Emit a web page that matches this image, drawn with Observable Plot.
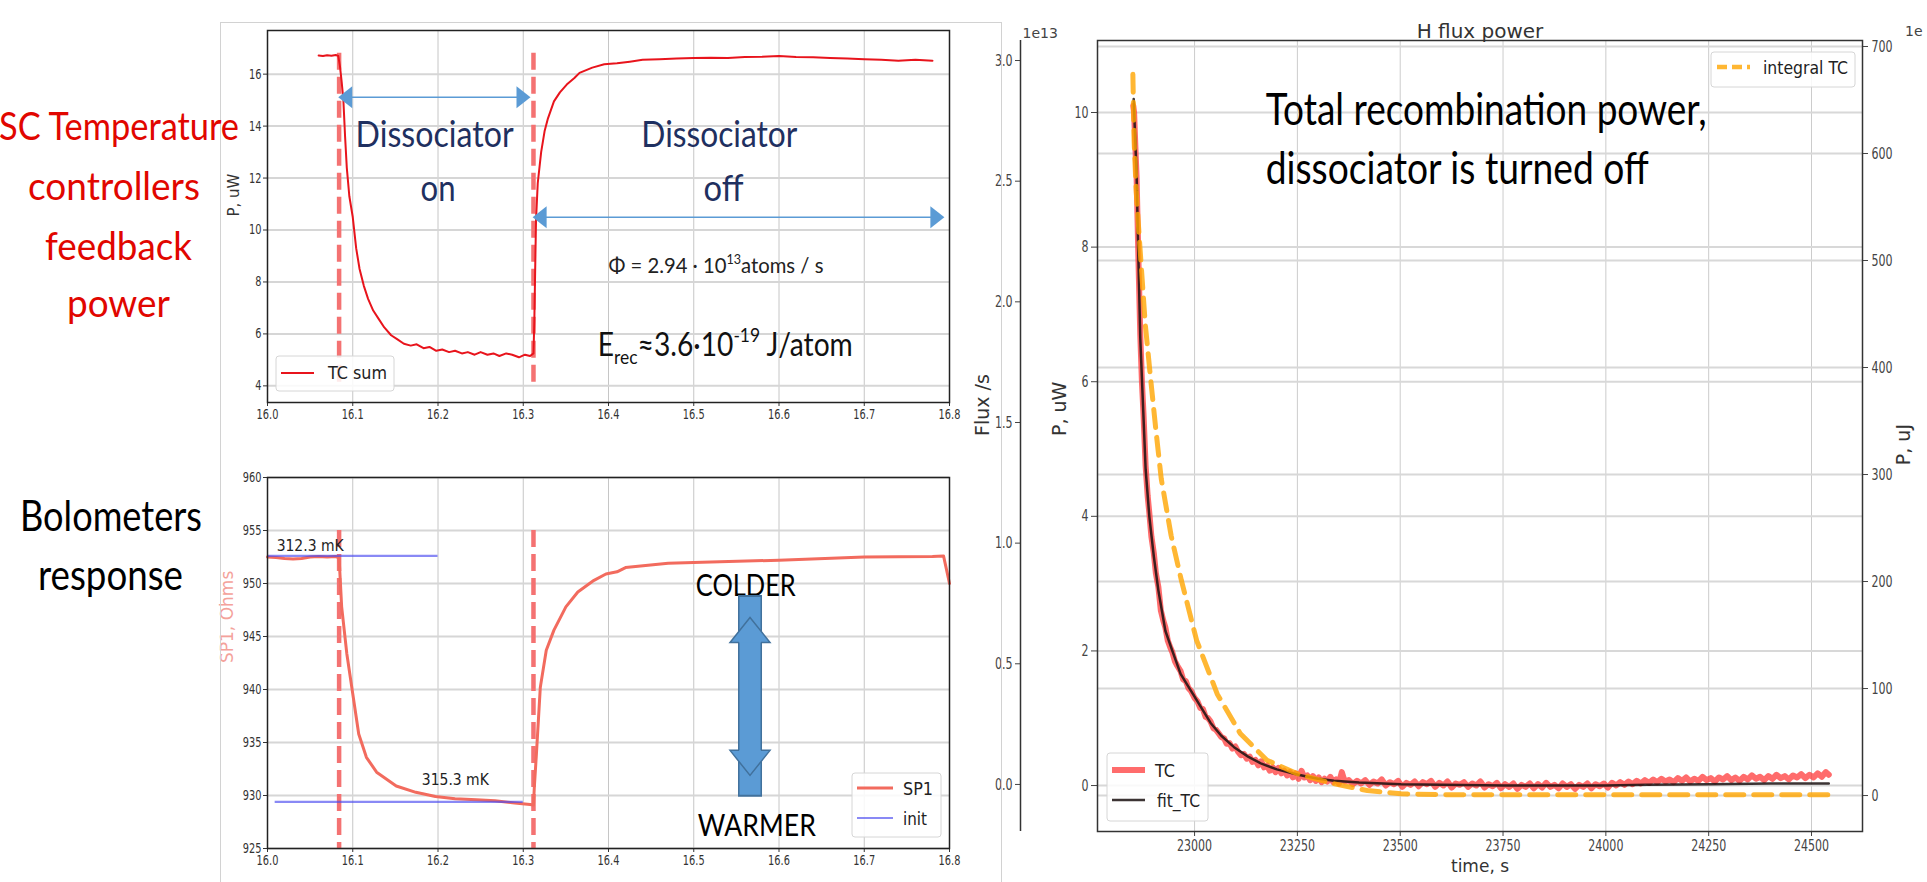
<!DOCTYPE html>
<html>
<head>
<meta charset="utf-8">
<script src="https://cdn.jsdelivr.net/npm/d3@7"></script>
<script src="https://cdn.jsdelivr.net/npm/@observablehq/plot@0.6"></script>
<style>
html, body { margin:0; padding:0; background:#fff; }
#page { position:relative; width:1927px; height:882px; overflow:hidden; background:#fff; }
.panel { position:absolute; }
.panel svg { display:block; }
</style>
</head>
<body>
<div id="page"></div>
<script>
// ================= DATA =================
// --- left column: shared time axis (hours) ---
const leftXTicks = [16.0, 16.1, 16.2, 16.3, 16.4, 16.5, 16.6, 16.7, 16.8];
const leftXDomain = [16.0, 16.8];
const events = [16.084, 16.312];               // dissociator on / off

// --- top-left: TC sum power (uW) ---
const tcSumTicks = [4, 6, 8, 10, 12, 14, 16];
const tcSumDomain = [3.36, 17.68];
const eventSpanTop = [16.8, 4.0];
const tcSumTime = [16.060,16.065,16.070,16.075,16.080,16.083,16.085,16.087,16.089,16.091,16.093,16.096,16.100,16.104,16.108,16.113,16.118,16.124,16.130,16.137,16.145,16.152,16.160,16.168,16.175,16.183,16.190,16.198,16.205,16.213,16.220,16.228,16.235,16.243,16.250,16.258,16.265,16.272,16.280,16.287,16.295,16.302,16.308,16.312,16.313,16.314,16.315,16.317,16.321,16.325,16.329,16.336,16.343,16.351,16.360,16.366,16.381,16.395,16.410,16.425,16.440,16.460,16.480,16.500,16.520,16.540,16.560,16.580,16.600,16.620,16.640,16.660,16.680,16.700,16.720,16.740,16.760,16.780];
const tcSumP = [16.72,16.70,16.73,16.71,16.74,16.70,16.3,15.7,15.0,13.6,12.4,11.3,10.5,9.3,8.5,7.85,7.35,6.9,6.6,6.25,5.95,5.8,5.62,5.55,5.6,5.45,5.5,5.35,5.4,5.3,5.35,5.25,5.3,5.2,5.3,5.2,5.25,5.15,5.25,5.2,5.1,5.2,5.15,5.25,6.5,8.5,10.4,11.8,13.0,13.8,14.3,14.95,15.3,15.6,15.85,16.05,16.25,16.38,16.42,16.48,16.55,16.57,16.6,16.62,16.63,16.62,16.66,16.67,16.70,16.66,16.65,16.62,16.6,16.57,16.55,16.52,16.55,16.52];
// blue span arrows (on / off periods)
const spanStart = [16.083, 16.311];
const spanEnd = [16.3085, 16.794];
const spanLevel = [15.11, 10.49];
// annotations
const dissocText = ["Dissociator", "on", "Dissociator", "off"];
const dissocX = [16.196, 16.200, 16.530, 16.535];
const dissocY = [13.64, 11.58, 13.64, 11.58];
const dissocW = [158, 35, 156, 40];
const fluxNoteX = [16.526], fluxNoteY = [8.62];
const erecNoteX = [16.537], erecNoteY = [5.55];

// --- bottom-left: bolometer SP1 resistance (Ohms) ---
const sp1Ticks = [925, 930, 935, 940, 945, 950, 955, 960];
const sp1Domain = [925, 960];
const eventSpanBottom = [955, 925];
const sp1Time = [16.000,16.010,16.020,16.030,16.040,16.050,16.060,16.070,16.080,16.084,16.087,16.093,16.100,16.107,16.116,16.128,16.151,16.174,16.197,16.220,16.245,16.267,16.290,16.308,16.312,16.313,16.3155,16.320,16.327,16.336,16.350,16.364,16.383,16.397,16.410,16.420,16.470,16.510,16.600,16.700,16.780,16.793,16.800];
const sp1R = [952.5,952.45,952.35,952.3,952.35,952.5,952.55,952.5,952.55,952.4,947.8,943.4,939.6,935.8,933.6,932.2,930.9,930.3,929.9,929.7,929.6,929.5,929.3,929.15,929.1,930.8,934.0,940.2,943.7,945.6,947.8,949.2,950.3,950.9,951.1,951.5,951.9,952.0,952.2,952.5,952.55,952.6,950.0];
const initStart = [16.0, 16.009];
const initEnd = [16.2, 16.3];
const initR = [952.6, 929.4];
const tempText = ["312.3 mK", "315.3 mK"];
const tempX = [16.050, 16.2203];
const tempY = [953.53, 931.52];
const dirText = ["COLDER", "WARMER"];
const dirX = [16.561, 16.574];
const dirY = [949.79, 927.15];
const gaugeX = [16.566];
const gaugeTop = [946.8];
const gaugeBottom = [931.9];

// --- right: H flux power ---
const timeTicks = [23000, 23250, 23500, 23750, 24000, 24250, 24500];
const timeDomain = [22764, 24624];
const pTicks = [0, 2, 4, 6, 8, 10];
const pDomain = [-0.683, 11.07];        // P, uW
const ujTicks = [0, 100, 200, 300, 400, 500, 600, 700];
const ujDomain = [-33.6, 705.6];        // P, uJ (right axis)
const fluxTicks = [0.0, 0.5, 1.0, 1.5, 2.0, 2.5, 3.0];
const fluxDomain = [-0.195, 3.083];     // Flux /s (x1e13, outer left axis)

const tcTime = [22851,22853,22856,22859,22863,22868,22872,22876,22881,22886,22890,22895,22901,22906,22912,22918,22924,22929,22935,22941,22946,22952,22958,22966,22972,22979,22985,22992,23000,23007,23014,23020,23027,23033,23039,23046,23052,23058,23065,23072,23078,23085,23092,23099,23106,23113,23120,23127,23134,23141,23148,23155,23162,23169,23176,23183,23190,23197,23204,23211,23218,23225,23232,23239,23246,23253,23260,23267,23274,23281,23288,23295,23302,23309,23316,23323,23330,23337,23344,23351,23358,23365,
23375,23385,23395,23405,23415,23425,23435,23445,23455,23465,
23475,23485,23495,23505,23515,23525,23535,23545,23555,23565,
23575,23585,23595,23605,23615,23625,23635,23645,23655,23665,
23675,23685,23695,23705,23715,23725,23735,23745,23755,23765,
23775,23785,23795,23805,23815,23825,23835,23845,23855,23865,
23875,23885,23895,23905,23915,23925,23935,23945,23955,23965,
23975,23985,23995,24005,24015,24025,24035,24045,24055,24065,
24075,24085,24095,24105,24115,24125,24135,24145,24155,24165,
24175,24185,24195,24205,24215,24225,24235,24245,24255,24265,
24275,24285,24295,24305,24315,24325,24335,24345,24355,24365,
24375,24385,24395,24405,24415,24425,24435,24445,24455,24465,
24475,24485,24495,24505,24515,24525,24535,24542];
const tcP = [10.1,10.0,9.5,9.05,7.95,6.7,6.0,5.5,4.75,4.3,4.05,3.7,3.45,3.15,2.95,2.6,2.45,2.35,2.15,2.05,1.98,1.85,1.78,1.70,1.58,1.55,1.45,1.40,1.30,1.25,1.15,1.14,1.02,1.00,0.95,0.85,0.83,0.78,0.72,0.70,0.62,0.63,0.55,0.58,0.50,0.45,0.47,0.40,0.43,0.35,0.38,0.30,0.36,0.27,0.30,0.22,0.27,0.20,0.26,0.18,0.22,0.15,0.20,0.12,0.18,0.10,0.22,0.12,0.15,0.08,0.14,0.07,0.12,0.05,0.10,0.06,0.13,0.05,0.09,0.03,0.20,0.06,
0.08,0.02,0.07,0.03,0.08,0.01,0.06,0.03,0.09,0.0,
0.05,0.02,0.07,-0.02,0.04,0.01,0.06,-0.01,0.05,0.02,
0.07,-0.02,0.04,0.0,0.06,-0.03,0.03,0.01,0.05,-0.02,
0.03,0.0,0.06,-0.03,0.02,-0.01,0.04,-0.04,0.02,-0.02,
0.03,-0.05,0.01,-0.02,0.03,-0.04,0.02,-0.03,0.04,-0.02,
0.01,-0.04,0.03,-0.02,0.02,-0.05,0.01,-0.02,0.03,-0.04,
0.02,-0.01,0.03,-0.03,0.04,0.0,0.05,0.01,0.06,0.02,
0.07,0.03,0.08,0.04,0.09,0.05,0.10,0.06,0.09,0.05,
0.11,0.07,0.12,0.06,0.10,0.07,0.13,0.08,0.11,0.06,
0.12,0.09,0.14,0.08,0.12,0.07,0.13,0.09,0.15,0.10,
0.13,0.08,0.14,0.10,0.16,0.11,0.14,0.09,0.15,0.12,
0.17,0.11,0.16,0.12,0.18,0.13,0.20,0.16];
const fitTime = [22852,22856,22859,22863,22868,22875,22881,22890,22901,22912,22929,22946,22966,22985,23000,23020,23039,23065,23096,23130,23161,23200,23252,23300,23339,23400,23502,23600,23752,23900,24000,24100,24250,24400,24542];
const fitP = [10.2,9.55,9.1,7.95,6.65,5.6,4.7,4.0,3.4,2.9,2.3,2.0,1.66,1.47,1.32,1.12,0.93,0.74,0.57,0.43,0.33,0.24,0.16,0.10,0.07,0.045,0.02,0.01,0.0,0.0,0.0,0.01,0.02,0.03,0.03];
const integTime = [22850,22853,22858,22866,22880,22892,22905,22919,22943,22968,23005,23055,23111,23176,23252,23339,23420,23502,23600,23750,24000,24250,24540];
const integUJ = [674,612,565,519,441,394,345,296,243,201,145,95,58,33,20,11,4.7,1.6,0.8,0.7,0.7,0.7,0.7];
const totalText = ["Total recombination power,", "dissociator is turned off"];
const totalX = [23173, 23173];
const totalY = [10.02, 9.15];
const totalW = [441, 383];

// ================= HELPERS =================
const ns = "http://www.w3.org/2000/svg";
const page = document.getElementById("page");
function place(node, left, top) {
  const d = document.createElement("div");
  d.className = "panel";
  d.style.left = left + "px";
  d.style.top = top + "px";
  d.appendChild(node);
  page.appendChild(d);
  return node;
}
function zip(a, b, ka, kb) {
  const n = Math.min(a.length, b.length);
  return d3.range(n).map(i => ({[ka]: a[i], [kb]: b[i]}));
}
function fitWidth(t, w) {
  if (!t) return;
  t.setAttribute("textLength", w);
  t.setAttribute("lengthAdjust", "spacingAndGlyphs");
}
function groupTexts(svg, label) {
  return Array.from(svg.querySelectorAll(`g[aria-description="${label}"] text`));
}
function fitGroup(svg, label, widths) {
  groupTexts(svg, label).forEach((t, i) => { if (widths[i]) fitWidth(t, widths[i]); });
}
function squashTicks(svg, k) {
  svg.querySelectorAll('g[aria-label$="tick label"] text').forEach(t => {
    const w = t.getComputedTextLength();
    if (w > 0) fitWidth(t, (w * k).toFixed(1));
  });
}
// builds sub/superscript pieces, then compresses each piece so the whole spans `width`
function richText(t, parts, size, width) {
  if (!t) return;
  t.textContent = "";
  let cur = 0;
  const spans = [];
  for (const [s, lvl] of parts) {
    const ts = document.createElementNS(ns, "tspan");
    const target = lvl === 1 ? -0.42 * size : lvl === -1 ? 0.24 * size : 0;
    if (target !== cur) ts.setAttribute("dy", (target - cur).toFixed(1));
    cur = target;
    if (lvl) ts.setAttribute("font-size", (size * 0.62).toFixed(1));
    ts.textContent = s;
    t.appendChild(ts);
    spans.push(ts);
  }
  const lens = spans.map(s => s.getComputedTextLength());
  const total = d3.sum(lens);
  if (total > 0) {
    const k = width / total;
    spans.forEach((s, i) => fitWidth(s, (lens[i] * k).toFixed(1)));
  }
}
const lin = (d0, d1) => v => pDomain[0] + (v - d0) / (d1 - d0) * (pDomain[1] - pDomain[0]);
const inv = (d0, d1) => p => d0 + (p - pDomain[0]) / (pDomain[1] - pDomain[0]) * (d1 - d0);
const uToP = lin(ujDomain[0], ujDomain[1]);
const pToU = inv(ujDomain[0], ujDomain[1]);
const fToP = lin(fluxDomain[0], fluxDomain[1]);
const pToF = inv(fluxDomain[0], fluxDomain[1]);

const blue = "#5b9bd5", blueDark = "#41719c";
const headRight = {draw(c) { c.moveTo(0, 0); c.lineTo(-14, -11); c.lineTo(-14, 11); c.closePath(); }};
const headLeft = {draw(c) { c.moveTo(0, 0); c.lineTo(14, -11); c.lineTo(14, 11); c.closePath(); }};
const blockUp = {draw(c) { c.moveTo(-11, 25); c.lineTo(-20, 25); c.lineTo(0, 0); c.lineTo(20, 25); c.lineTo(11, 25); }};
const blockDown = {draw(c) { c.moveTo(-11, -25); c.lineTo(-20, -25); c.lineTo(0, 0); c.lineTo(20, -25); c.lineTo(11, -25); }};

const axisFont = {background: "transparent", fontFamily: "'DejaVu Sans', sans-serif", fontSize: "14px", color: "#333"};
const eventStyle = {stroke: "#f47272", strokeWidth: 4.5, strokeDasharray: "17,7"};

// ================= TOP-LEFT CHART =================
const topSvg = Plot.plot({
  width: 770, height: 440,
  marginLeft: 67, marginRight: 21, marginTop: 30, marginBottom: 38,
  style: axisFont,
  x: {domain: leftXDomain, label: null},
  y: {domain: tcSumDomain, label: null},
  marks: [
    Plot.gridX(leftXTicks, {stroke: "#c6c6c6", strokeOpacity: 1, strokeWidth: 1}),
    Plot.gridY(tcSumTicks, {stroke: "#d6d6d6", strokeOpacity: 1, strokeWidth: 2}),
    Plot.axisX(leftXTicks, {tickFormat: d3.format(".1f"), tickSize: 4, tickPadding: 3, label: null}),
    Plot.axisY(tcSumTicks, {tickFormat: d3.format("d"), tickSize: 4, tickPadding: 2, label: null}),
    Plot.ruleX(events, {y1: eventSpanTop[0], y2: eventSpanTop[1], ...eventStyle}),
    Plot.line(zip(tcSumTime, tcSumP, "t", "p"), {x: "t", y: "p", stroke: "#e8141c", strokeWidth: 2}),
    Plot.ruleY(spanLevel, {x1: (d, i) => spanStart[i], x2: (d, i) => spanEnd[i], y: d => d, stroke: blue, strokeWidth: 1.6, insetLeft: 6, insetRight: 6}),
    Plot.dot(spanLevel, {x: (d, i) => spanEnd[i], y: d => d, symbol: headRight, fill: blue, stroke: "none"}),
    Plot.dot(spanLevel, {x: (d, i) => spanStart[i], y: d => d, symbol: headLeft, fill: blue, stroke: "none"}),
    Plot.text(dissocText, {x: (d, i) => dissocX[i], y: (d, i) => dissocY[i], text: d => d, fontFamily: "Lato", fontSize: 37, fill: "#1f3060", ariaDescription: "notes-dissoc"}),
    Plot.text(["Φ"], {x: fluxNoteX, y: fluxNoteY, text: d => d, fontFamily: "Lato", fontSize: 21, fill: "#222", ariaDescription: "note-flux"}),
    Plot.text(["E"], {x: erecNoteX, y: erecNoteY, text: d => d, fontFamily: "Lato", fontSize: 32, fill: "#111", ariaDescription: "note-erec"}),
    Plot.text(["P, uW"], {frameAnchor: "left", dx: -33, rotate: -90, text: d => d, fontSize: 15, fill: "#333"}),
    Plot.frame({stroke: "#222", strokeWidth: 1.5})
  ]
});
place(topSvg, 200, 0);

// ================= BOTTOM-LEFT CHART =================
const bottomSvg = Plot.plot({
  width: 770, height: 442,
  marginLeft: 67, marginRight: 21, marginTop: 37, marginBottom: 34,
  style: axisFont,
  x: {domain: leftXDomain, label: null},
  y: {domain: sp1Domain, label: null},
  marks: [
    Plot.gridX(leftXTicks, {stroke: "#c6c6c6", strokeOpacity: 1, strokeWidth: 1}),
    Plot.gridY(sp1Ticks, {stroke: "#d6d6d6", strokeOpacity: 1, strokeWidth: 2}),
    Plot.axisX(leftXTicks, {tickFormat: d3.format(".1f"), tickSize: 4, tickPadding: 3, label: null}),
    Plot.axisY(sp1Ticks, {tickFormat: d3.format("d"), tickSize: 4, tickPadding: 2, label: null}),
    Plot.ruleX(events, {y1: eventSpanBottom[0], y2: eventSpanBottom[1], ...eventStyle}),
    Plot.line(zip(sp1Time, sp1R, "t", "r"), {x: "t", y: "r", stroke: "#f26b5e", strokeWidth: 3}),
    Plot.ruleY(initR, {x1: (d, i) => initStart[i], x2: (d, i) => initEnd[i], y: d => d, stroke: "#4a4af0", strokeWidth: 2.2, strokeOpacity: 0.65}),
    Plot.text(tempText, {x: (d, i) => tempX[i], y: (d, i) => tempY[i], text: d => d, fontSize: 16, fill: "#222", ariaDescription: "notes-temp"}),
    Plot.text(dirText, {x: (d, i) => dirX[i], y: (d, i) => dirY[i], text: d => d, fontFamily: "Lato", fontSize: 31, fill: "#000", ariaDescription: "notes-dir"}),
    Plot.ruleX(gaugeX, {y1: (d, i) => gaugeBottom[i], y2: (d, i) => gaugeTop[i], stroke: blueDark, strokeWidth: 24, insetTop: 22, insetBottom: 22}),
    Plot.ruleX(gaugeX, {y1: (d, i) => gaugeBottom[i], y2: (d, i) => gaugeTop[i], stroke: blue, strokeWidth: 21, insetTop: 20, insetBottom: 20}),
    Plot.dot(gaugeX, {x: d => d, y: (d, i) => gaugeTop[i], symbol: blockUp, fill: blue, stroke: blueDark, strokeWidth: 1.5}),
    Plot.dot(gaugeX, {x: d => d, y: (d, i) => gaugeBottom[i], symbol: blockDown, fill: blue, stroke: blueDark, strokeWidth: 1.5}),
    Plot.text(["SP1, Ohms"], {frameAnchor: "left", dx: -40, rotate: -90, text: d => d, fontSize: 17, fill: "#f4a29a"}),
    Plot.frame({stroke: "#222", strokeWidth: 1.5})
  ]
});
place(bottomSvg, 200, 440);

// ================= RIGHT CHART =================
const ujObjs = ujTicks.map(u => ({u}));
const fluxObjs = fluxTicks.map(f => ({f}));
const rightSvg = Plot.plot({
  width: 967, height: 882,
  marginLeft: 137, marginRight: 65, marginTop: 40, marginBottom: 51,
  style: {...axisFont, fontSize: "16px", color: "#444"},
  x: {domain: timeDomain, label: null},
  y: {domain: pDomain, label: null},
  marks: [
    Plot.gridX(timeTicks, {stroke: "#cccccc", strokeOpacity: 1, strokeWidth: 1}),
    Plot.gridY(pTicks, {stroke: "#d8d8d8", strokeOpacity: 1, strokeWidth: 2}),
    Plot.gridY(ujObjs, {y: d => uToP(d.u), stroke: "#d8d8d8", strokeOpacity: 1, strokeWidth: 2}),
    Plot.axisX(timeTicks, {tickFormat: d3.format("d"), tickSize: 5, tickPadding: 3, label: null}),
    Plot.axisY(pTicks, {anchor: "left", tickFormat: d3.format("d"), tickSize: 6, tickPadding: 3, label: null}),
    Plot.axisY(ujObjs, {anchor: "right", y: d => uToP(d.u), tickFormat: d => (typeof d === "object" ? d.u : Math.round(pToU(d))), tickSize: 5, tickPadding: 4, label: null}),
    Plot.axisY(fluxObjs, {anchor: "left", dx: -77, y: d => fToP(d.f), tickFormat: d => (typeof d === "object" ? d.f : pToF(d)).toFixed(1), tickSize: 5, tickPadding: 3, label: null}),
    Plot.ruleX([timeDomain[0]], {dx: -77, stroke: "#333", strokeWidth: 1.5}),
    Plot.line(zip(tcTime, tcP, "t", "p"), {x: "t", y: "p", stroke: "#ff3b3b", strokeOpacity: 0.75, strokeWidth: 6, strokeLinejoin: "round"}),
    Plot.line(zip(fitTime, fitP, "t", "p"), {x: "t", y: "p", stroke: "#1a1010", strokeOpacity: 0.85, strokeWidth: 2.5}),
    Plot.line(zip(integTime, integUJ, "t", "u"), {x: "t", y: d => uToP(d.u), stroke: "#ffa500", strokeOpacity: 0.8, strokeWidth: 5, strokeDasharray: "18,10"}),
    Plot.text(totalText, {x: (d, i) => totalX[i], y: (d, i) => totalY[i], text: d => d, textAnchor: "start", fontFamily: "Lato", fontSize: 44, fill: "#000", ariaDescription: "notes-total"}),
    Plot.text(["H flux power"], {frameAnchor: "top", dy: -17, text: d => d, fontSize: 20, fill: "#333"}),
    Plot.text(["time, s"], {frameAnchor: "bottom", dy: 40, text: d => d, fontSize: 17, fill: "#333"}),
    Plot.text(["P, uW"], {frameAnchor: "left", dx: -38, rotate: -90, text: d => d, fontSize: 19, fill: "#333"}),
    Plot.text(["Flux /s"], {frameAnchor: "left", dx: -115, rotate: -90, text: d => d, fontSize: 19, fill: "#333"}),
    Plot.text(["P, uJ"], {frameAnchor: "right", dx: 41, dy: -12, rotate: -90, text: d => d, fontSize: 19, fill: "#333"}),
    Plot.text(["1e13"], {frameAnchor: "top-left", dx: -75, dy: -12, textAnchor: "start", text: d => d, fontSize: 14, fill: "#444"}),
    Plot.frame({stroke: "#333", strokeWidth: 1.5})
  ]
});
place(rightSvg, 960, 0);

// post-process texts
squashTicks(topSvg, 0.7);
squashTicks(bottomSvg, 0.7);
squashTicks(rightSvg, 0.69);
fitGroup(topSvg, "notes-dissoc", dissocW);
fitGroup(bottomSvg, "notes-temp", [67, 67]);
fitGroup(bottomSvg, "notes-dir", [100, 118]);
fitGroup(rightSvg, "notes-total", totalW);
richText(groupTexts(topSvg, "note-flux")[0], [["Φ = 2.94 · 10", 0], ["13", 1], ["atoms / s", 0]], 21, 215);
richText(groupTexts(topSvg, "note-erec")[0], [["E", 0], ["rec", -1], ["≈3.6·10", 0], ["-19", 1], [" J/atom", 0]], 32, 255);

// ================= OVERLAY (slide texts, legends, panel border) =================
const ov = d3.create("svg").attr("width", 1927).attr("height", 882)
  .style("position", "absolute").style("left", "0px").style("top", "0px").style("pointer-events", "none");
page.appendChild(ov.node());
function addText(x, y, str, o) {
  const t = ov.append("text").attr("x", x).attr("y", y)
    .attr("font-family", o.family || "Lato").attr("font-size", o.size)
    .attr("fill", o.fill || "#000").attr("text-anchor", o.anchor || "start").text(str);
  if (o.width) t.attr("textLength", o.width).attr("lengthAdjust", "spacingAndGlyphs");
  return t;
}
// panel border of the left figure
ov.append("rect").attr("x", 220.5).attr("y", 22.5).attr("width", 781).attr("height", 900)
  .attr("fill", "none").attr("stroke", "#d2d2d2").attr("stroke-width", 1);

const leftLines = ["SC Temperature", "controllers", "feedback", "power"];
const leftLineX = [-1, 28, 45, 67];
const leftLineY = [140, 200, 260, 317];
const leftLineW = [240, 172, 147, 103];
leftLines.forEach((s, i) => addText(leftLineX[i], leftLineY[i], s, {size: 39, fill: "#e10600", width: leftLineW[i]}));
const boloLines = ["Bolometers", "response"];
const boloX = [20, 38], boloY = [531, 590], boloW = [182, 145];
boloLines.forEach((s, i) => addText(boloX[i], boloY[i], s, {size: 42, fill: "#000", width: boloW[i]}));

// legends
function legendBox(x, y, w, h) {
  ov.append("rect").attr("x", x).attr("y", y).attr("width", w).attr("height", h).attr("rx", 3)
    .attr("fill", "#fff").attr("fill-opacity", 0.85).attr("stroke", "#d6d6d6");
}
function legendLine(x1, x2, y, stroke, width, opts = {}) {
  const l = ov.append("line").attr("x1", x1).attr("x2", x2).attr("y1", y).attr("y2", y)
    .attr("stroke", stroke).attr("stroke-width", width);
  if (opts.opacity) l.attr("stroke-opacity", opts.opacity);
  if (opts.dash) l.attr("stroke-dasharray", opts.dash);
}
const dj = "DejaVu Sans";
legendBox(276, 356, 118, 35);
legendLine(281, 314, 373, "#e8141c", 2);
addText(328, 379, "TC sum", {size: 17, family: dj, fill: "#222", width: 59});

legendBox(852, 773, 89, 64);
legendLine(857, 893, 788, "#f26b5e", 3);
legendLine(857, 893, 818, "#4a4af0", 2.2, {opacity: 0.65});
addText(903, 795, "SP1", {size: 18, family: dj, fill: "#222", width: 30});
addText(903, 825, "init", {size: 18, family: dj, fill: "#222", width: 24});

legendBox(1711, 52, 144, 35);
legendLine(1717, 1750, 67, "#ffa500", 4.5, {opacity: 0.8, dash: "10,5"});
addText(1763, 74, "integral TC", {size: 18, family: dj, fill: "#222", width: 85});

legendBox(1107, 753, 101, 68);
legendLine(1112, 1145, 770, "#ff3b3b", 6, {opacity: 0.75});
legendLine(1112, 1145, 800, "#1a1010", 2.5, {opacity: 0.85});
addText(1155, 777, "TC", {size: 17, family: dj, fill: "#222", width: 20});
addText(1157, 807, "fit_TC", {size: 17, family: dj, fill: "#222", width: 43});

addText(1905, 36, "1e", {size: 14, family: dj, fill: "#444"});
</script>
</body>
</html>
